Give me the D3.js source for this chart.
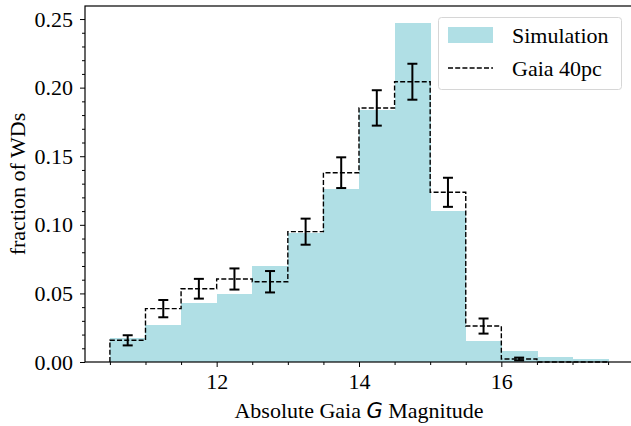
<!DOCTYPE html>
<html>
<head>
<meta charset="utf-8">
<script src="https://cdn.jsdelivr.net/npm/d3@7"></script>
<style>
  body { margin: 0; background: #fff; }
  svg text { font-family: "Liberation Serif", "Times New Roman", serif; fill: #000; }
</style>
</head>
<body>
<svg id="chart" width="631" height="426"></svg>
<script>
// bin edges (absolute Gaia G magnitude), 0.5 mag wide
var binEdges = [10.5, 11, 11.5, 12, 12.5, 13, 13.5, 14, 14.5, 15, 15.5, 16, 16.5, 17, 17.5]
// simulated fraction per bin
var simFrac = [0.0175, 0.027, 0.0428, 0.0493, 0.0702, 0.094, 0.126, 0.184, 0.2468, 0.1103, 0.0155, 0.0078, 0.0039, 0.0019]
// Gaia 40pc fraction per bin and error (half-length)
var gaiaFrac = [0.0158, 0.0389, 0.0534, 0.0605, 0.0585, 0.095, 0.138, 0.1852, 0.2043, 0.1237, 0.0262, 0.0022, 0, 0]
var gaiaErr = [0.0037, 0.0063, 0.0072, 0.0077, 0.0078, 0.0095, 0.0112, 0.0129, 0.0131, 0.0106, 0.0055, 0.001, 0, 0]

var xTicks = [12, 14, 16]
var yTicks = [0, 0.05, 0.10, 0.15, 0.20, 0.25]

var mLeft = 85, mTop = 6, mBottom = 362, mRight = 633

var svg = d3.select("#chart")

var x = d3.scaleLinear().domain([10.15, 17.85]).range([mLeft, mRight])
var y = d3.scaleLinear().domain([0, 0.2595]).range([mBottom, mTop])

var bins = simFrac.map((v, i) => ({x0: binEdges[i], x1: binEdges[i + 1], sim: v, gaia: gaiaFrac[i], err: gaiaErr[i]}))

// simulation bars
svg.append("g")
  .attr("shape-rendering", "crispEdges")
  .selectAll("rect")
  .data(bins)
  .join("rect")
  .attr("x", d => x(d.x0))
  .attr("y", d => y(d.sim))
  .attr("width", d => x(d.x1) - x(d.x0) + 0.6)
  .attr("height", d => y(0) - y(d.sim))
  .attr("fill", "#b0dfe5")

// gaia step outline
var stepPts = [[binEdges[0], 0]]
bins.forEach(d => { stepPts.push([d.x0, d.gaia]); stepPts.push([d.x1, d.gaia]) })
stepPts.push([binEdges[binEdges.length - 1], 0])

svg.append("path")
  .datum(stepPts)
  .attr("d", d3.line().x(d => x(d[0])).y(d => y(d[1])))
  .attr("fill", "none")
  .attr("stroke", "#000")
  .attr("stroke-width", 1.4)
  .attr("stroke-dasharray", "5,2.2")

// error bars
var eb = svg.append("g")
  .selectAll("g")
  .data(bins.filter(d => d.err > 0))
  .join("g")
  .attr("stroke", "#000")
  .attr("stroke-width", 2)

eb.append("line")
  .attr("x1", d => x((d.x0 + d.x1) / 2)).attr("x2", d => x((d.x0 + d.x1) / 2))
  .attr("y1", d => y(d.gaia - d.err)).attr("y2", d => y(d.gaia + d.err))
eb.append("line")
  .attr("x1", d => x((d.x0 + d.x1) / 2) - 5).attr("x2", d => x((d.x0 + d.x1) / 2) + 5)
  .attr("y1", d => y(d.gaia + d.err)).attr("y2", d => y(d.gaia + d.err))
eb.append("line")
  .attr("x1", d => x((d.x0 + d.x1) / 2) - 5).attr("x2", d => x((d.x0 + d.x1) / 2) + 5)
  .attr("y1", d => y(d.gaia - d.err)).attr("y2", d => y(d.gaia - d.err))

// spines
svg.append("rect")
  .attr("x", mLeft).attr("y", mTop)
  .attr("width", mRight - mLeft).attr("height", mBottom - mTop)
  .attr("fill", "none").attr("stroke", "#000").attr("stroke-width", 1.2)

// axes
var xMinor = d3.range(10.5, 17.6, 0.5).filter(v => xTicks.indexOf(v) < 0)
var yMinor = d3.range(0, 26).map(i => i / 100).filter((v, i) => i % 5 != 0)

svg.append("g").attr("transform", `translate(0,${mBottom})`)
  .call(d3.axisBottom(x).tickValues(xTicks).tickSize(5).tickPadding(6).tickFormat(d3.format("d")))
svg.append("g").attr("transform", `translate(0,${mBottom})`)
  .call(d3.axisBottom(x).tickValues(xMinor).tickSize(3).tickFormat(""))

svg.append("g").attr("transform", `translate(${mLeft},0)`)
  .call(d3.axisLeft(y).tickValues(yTicks).tickSize(5).tickPadding(7).tickFormat(d3.format(".2f")))
svg.append("g").attr("transform", `translate(${mLeft},0)`)
  .call(d3.axisLeft(y).tickValues(yMinor).tickSize(3).tickFormat(""))

svg.selectAll(".domain").remove()
svg.selectAll(".tick line").attr("stroke", "#000").attr("stroke-width", 1)
svg.selectAll(".tick text").style("font-size", "22px").style("font-family", "Liberation Serif")

// axis labels
var xl = svg.append("text")
  .attr("x", (mLeft + mRight) / 2).attr("y", 418)
  .attr("text-anchor", "middle")
  .style("font-size", "22px")
xl.append("tspan").text("Absolute Gaia ")
xl.append("tspan").text("G").style("font-family", "DejaVu Sans").style("font-style", "italic").style("font-size", "21px")
xl.append("tspan").text(" Magnitude")

svg.append("text")
  .attr("transform", `translate(25,${(mTop + mBottom) / 2}) rotate(-90)`)
  .attr("text-anchor", "middle")
  .style("font-size", "22px")
  .text("fraction of WDs")

// legend
var lg = svg.append("g")
lg.append("rect")
  .attr("x", 438.5).attr("y", 17.5).attr("width", 183).attr("height", 72)
  .attr("rx", 3).attr("fill", "#fff").attr("fill-opacity", 0.8)
  .attr("stroke", "#d6d6d6").attr("stroke-width", 1)
lg.append("rect")
  .attr("x", 448).attr("y", 27).attr("width", 45).attr("height", 16)
  .attr("fill", "#b0dfe5")
lg.append("line")
  .attr("x1", 448).attr("x2", 493).attr("y1", 68).attr("y2", 68)
  .attr("stroke", "#000").attr("stroke-width", 1.4).attr("stroke-dasharray", "5,2.2")
lg.append("text").attr("x", 512).attr("y", 43).style("font-size", "22px").text("Simulation")
lg.append("text").attr("x", 512).attr("y", 76).style("font-size", "22px").text("Gaia 40pc")
</script>
</body>
</html>
